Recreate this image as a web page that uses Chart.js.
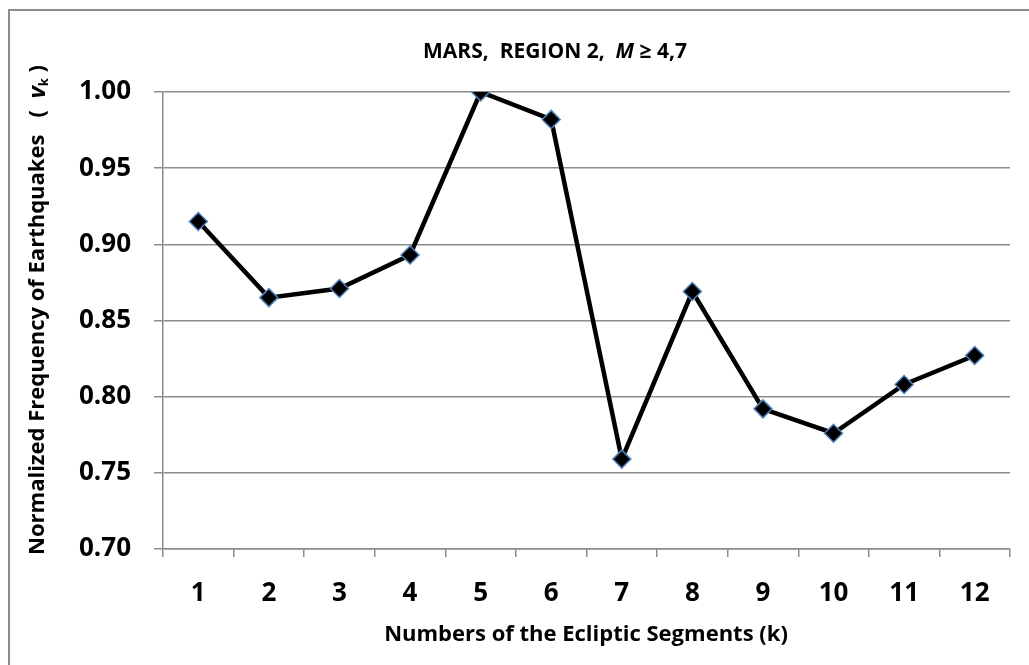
<!DOCTYPE html>
<html>
<head>
<meta charset="utf-8">
<script src="https://cdn.jsdelivr.net/npm/chart.js@4"></script>
<style>
  body { margin: 0; background: #fff; }
  #wrap { width: 1029px; height: 665px; position: relative; }
</style>
</head>
<body>
<div id="wrap"><canvas id="marsChart" width="1029" height="665"></canvas></div>
<script>
// chart data
const segments = ['1', '2', '3', '4', '5', '6', '7', '8', '9', '10', '11', '12'];
const frequency = [0.915, 0.865, 0.871, 0.893, 1.000, 0.982, 0.759, 0.869, 0.792, 0.776, 0.808, 0.827];
const yTicks = [0.70, 0.75, 0.80, 0.85, 0.90, 0.95, 1.00];

const FONT = '"Open Sans", "Noto Sans", sans-serif';
const GRID = '#8c8c8c';

// titles with mixed italic/subscript parts, plus the outer frame
const textPlugin = {
    id: 'texts',
    afterDraw(chart) {
        const ctx = chart.ctx;
        ctx.save();

        // frame
        ctx.strokeStyle = '#8c8c8c';
        ctx.lineWidth = 2;
        ctx.strokeRect(9, 10, 1040, 700);

        ctx.fillStyle = '#000';
        ctx.textBaseline = 'middle';

        // title
        const parts = [
            { t: 'MARS,  REGION 2,  ', f: 'bold 21px ' + FONT },
            { t: 'M', f: 'italic bold 21px ' + FONT },
            { t: ' \u2265 4,7', f: 'bold 21px ' + FONT }
        ];
        let w = 0;
        parts.forEach(p => { ctx.font = p.f; w += ctx.measureText(p.t).width; });
        let x = 555 - w / 2;
        ctx.textAlign = 'left';
        parts.forEach(p => {
            ctx.font = p.f;
            ctx.fillText(p.t, x, 52);
            x += ctx.measureText(p.t).width;
        });

        // x title
        ctx.font = 'bold 22px ' + FONT;
        ctx.textAlign = 'center';
        ctx.fillText('Numbers of the Ecliptic Segments (k)', 586, 635);

        // y title, rotated
        ctx.translate(38, 310);
        ctx.rotate(-Math.PI / 2);
        const yParts = [
            { t: 'Normalized Frequency of Earthquakes   (  ', f: 'bold 22px ' + FONT, dy: 0 },
            { t: 'v', f: 'italic bold 24px ' + FONT, dy: 0 },
            { t: 'k', f: 'bold 13px ' + FONT, dy: 6 },
            { t: ' )', f: 'bold 22px ' + FONT, dy: 0 }
        ];
        w = 0;
        yParts.forEach(p => { ctx.font = p.f; w += ctx.measureText(p.t).width; });
        x = -w / 2;
        ctx.textAlign = 'left';
        yParts.forEach(p => {
            ctx.font = p.f;
            ctx.fillText(p.t, x, p.dy);
            x += ctx.measureText(p.t).width;
        });
        ctx.restore();
    }
};

new Chart(
    document.getElementById('marsChart'),
    {
        type: 'line',
        data: {
            labels: segments,
            datasets: [{
                data: frequency,
                borderColor: '#000',
                borderWidth: 4.5,
                tension: 0,
                pointStyle: 'rectRot',
                pointRadius: 9,
                pointHoverRadius: 9,
                pointBackgroundColor: '#000',
                pointBorderColor: '#4f81bd',
                pointBorderWidth: 1.5
            }]
        },
        options: {
            responsive: false,
            animation: false,
            layout: {
                padding: { left: 0, right: 19, top: 92, bottom: 0 }
            },
            plugins: {
                legend: { display: false },
                tooltip: { enabled: false }
            },
            scales: {
                x: {
                    offset: true,
                    afterFit: s => { s.height = 116; },
                    grid: {
                        offset: true,
                        drawOnChartArea: false,
                        drawTicks: true,
                        tickLength: 8,
                        color: GRID,
                        lineWidth: 1.5
                    },
                    border: { color: GRID, width: 1.5 },
                    ticks: {
                        color: '#000',
                        padding: 21,
                        font: { family: FONT, size: 26, weight: 'bold' }
                    }
                },
                y: {
                    min: 0.70,
                    max: 1.00,
                    afterFit: s => { s.width = 163; },
                    afterBuildTicks: s => { s.ticks = yTicks.map(v => ({ value: v })); },
                    grid: {
                        color: GRID,
                        lineWidth: 1.5,
                        tickLength: 9
                    },
                    border: { color: GRID, width: 1.5 },
                    ticks: {
                        color: '#000',
                        padding: 23,
                        callback: v => v.toFixed(2),
                        font: { family: FONT, size: 26, weight: 'bold' }
                    }
                }
            }
        },
        plugins: [textPlugin]
    }
);
</script>
</body>
</html>
